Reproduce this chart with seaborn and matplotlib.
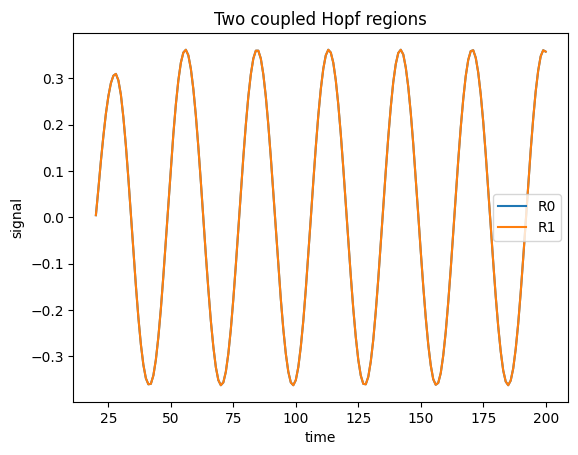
import pandas as pd
import matplotlib
matplotlib.use('Agg')
import matplotlib.pyplot as plt
import seaborn as sns

# sample times (one per time unit)
time = list(range(20, 201))

# signal, t = 20 .. 200
r0 = [
    0.005, 0.062, 0.122, 0.176, 0.224, 0.262, 0.290, 0.306, 0.310, 0.296,
    0.265, 0.216, 0.155, 0.084, 0.008, -0.071, -0.147, -0.216, -0.274, -0.318,
    -0.347, -0.360, -0.359, -0.341, -0.307, -0.258, -0.197, -0.126, -0.049, 0.030,
    0.107, 0.180, 0.244, 0.296, 0.334, 0.356, 0.362, 0.350, 0.321, 0.277,
    0.220, 0.152, 0.077, -0.002, -0.081, -0.155, -0.223, -0.279, -0.323, -0.351,
    -0.362, -0.356, -0.333, -0.294, -0.241, -0.176, -0.103, -0.026, 0.053, 0.130,
    0.200, 0.261, 0.309, 0.343, 0.360, 0.360, 0.343, 0.309, 0.261, 0.200,
    0.130, 0.053, -0.026, -0.104, -0.176, -0.241, -0.294, -0.333, -0.356, -0.362,
    -0.351, -0.323, -0.279, -0.223, -0.155, -0.080, -0.002, 0.077, 0.152, 0.220,
    0.277, 0.321, 0.350, 0.362, 0.356, 0.334, 0.296, 0.244, 0.180, 0.107,
    0.030, -0.049, -0.126, -0.197, -0.258, -0.307, -0.341, -0.359, -0.360, -0.344,
    -0.311, -0.264, -0.203, -0.133, -0.057, 0.022, 0.100, 0.173, 0.238, 0.292,
    0.331, 0.355, 0.362, 0.352, 0.324, 0.282, 0.226, 0.159, 0.084, 0.006,
    -0.073, -0.148, -0.216, -0.274, -0.319, -0.349, -0.361, -0.357, -0.336, -0.298,
    -0.247, -0.183, -0.111, -0.033, 0.046, 0.123, 0.194, 0.255, 0.305, 0.340,
    0.359, 0.361, 0.345, 0.313, 0.266, 0.207, 0.137, 0.061, -0.018, -0.096,
    -0.170, -0.235, -0.289, -0.330, -0.354, -0.362, -0.352, -0.326, -0.284, -0.229,
    -0.162, -0.088, -0.010, 0.069, 0.145, 0.213, 0.272, 0.317, 0.348, 0.361,
    0.358,
]
# second region is synchronised with the first
r1 = list(r0)

df = pd.concat([
    pd.DataFrame({'time': time, 'signal': r0, 'region': 'R0'}),
    pd.DataFrame({'time': time, 'signal': r1, 'region': 'R1'}),
])

fig, ax = plt.subplots(figsize=(5.78, 4.55), dpi=100)
fig.subplots_adjust(left=0.127, right=0.983, bottom=0.1165, top=0.9275)

sns.lineplot(data=df, x='time', y='signal', hue='region', ax=ax)
ax.legend(loc='center right')
ax.set_title('Two coupled Hopf regions')
ax.set_xlabel('time')
ax.set_ylabel('signal')

plt.savefig('out.png', dpi=100)
